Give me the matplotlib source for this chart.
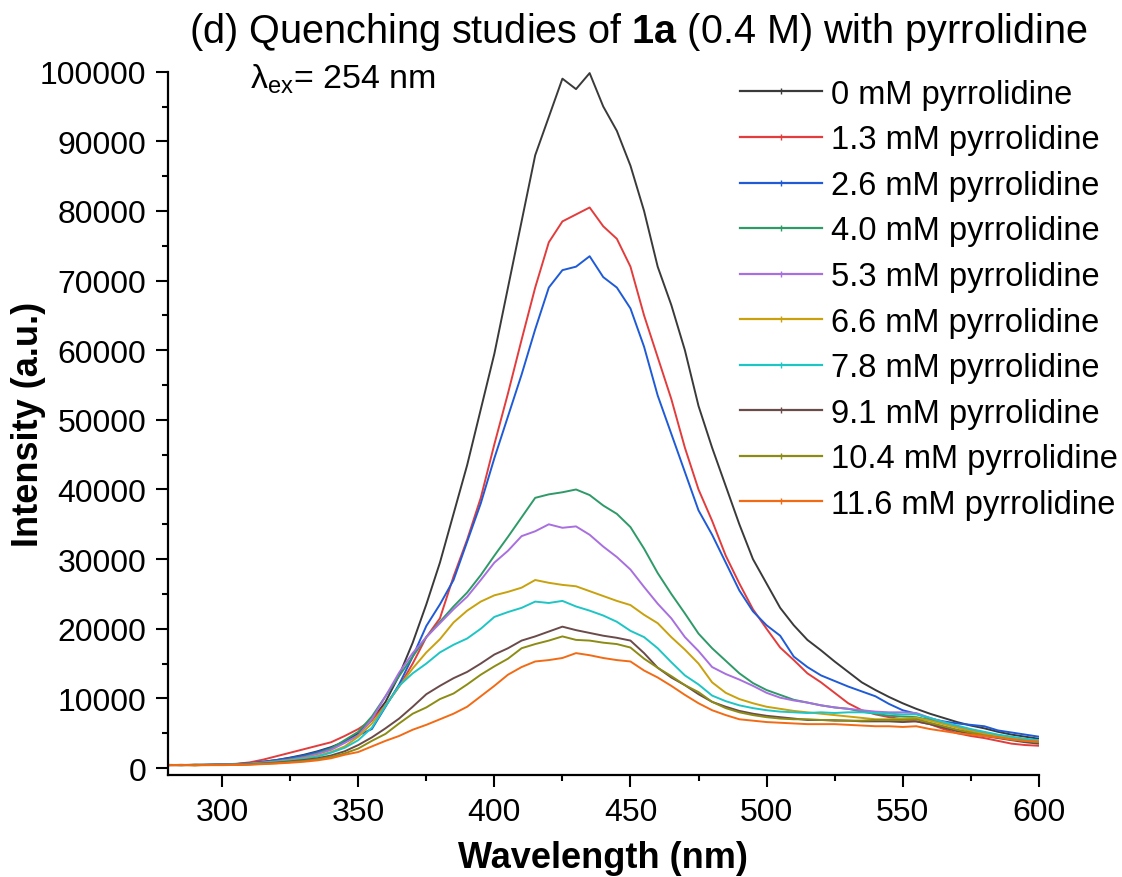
import matplotlib
matplotlib.use("Agg")
import matplotlib.pyplot as plt
from matplotlib.lines import Line2D
from matplotlib.ticker import MultipleLocator

plt.rcParams['font.family'] = ['Liberation Sans', 'DejaVu Sans']
plt.rcParams['mathtext.fontset'] = 'custom'
plt.rcParams['mathtext.rm'] = 'Liberation Sans'
plt.rcParams['mathtext.bf'] = 'Liberation Sans:bold'

# emission spectra, every 5 nm
wavelength = [280, 285, 290, 295, 300, 305, 310, 315, 320, 325, 330, 335, 340, 345, 350,
              355, 360, 365, 370, 375, 380, 385, 390, 395, 400, 405, 410, 415, 420, 425,
              430, 435, 440, 445, 450, 455, 460, 465, 470, 475, 480, 485, 490, 495, 500,
              505, 510, 515, 520, 525, 530, 535, 540, 545, 550, 555, 560, 565, 570, 575,
              580, 585, 590, 595, 600]

i_0mM = [450, 420, 480, 450, 500, 560, 700, 900, 1150, 1500, 1900, 2400, 3000, 3800, 5000,
         6900, 9500, 13300, 18000, 23500, 29500, 36500, 43500, 51500, 59500, 69000, 78500, 88000, 93500, 99000,
         97500, 99800, 95000, 91500, 86500, 80000, 72000, 66500, 60000, 52000, 46000, 40500, 35000, 30000, 26500,
         23000, 20500, 18400, 16900, 15300, 13800, 12300, 11200, 10200, 9300, 8500, 7800, 7200, 6600, 6100,
         5700, 5200, 4800, 4500, 4200]
i_1p3mM = [400, 450, 420, 480, 520, 600, 800, 1200, 1700, 2200, 2700, 3200, 3700, 4600, 5600,
           6900, 9000, 11700, 15000, 18800, 21500, 27500, 32800, 38800, 46500, 53800, 61500, 69000, 75500, 78500,
           79500, 80500, 77800, 76000, 72000, 65000, 59000, 53000, 46000, 40000, 35500, 30500, 26500, 22800, 20000,
           17300, 15500, 13600, 12300, 10800, 9300, 8300, 7700, 7300, 7000, 6700, 6300, 5600, 5000, 4600,
           4300, 3900, 3500, 3300, 3200]
i_2p6mM = [420, 400, 450, 470, 500, 560, 680, 900, 1150, 1450, 1800, 2300, 2900, 3700, 4700,
           5600, 8800, 12000, 16000, 20400, 23500, 27000, 32500, 38000, 44500, 50500, 56500, 63000, 69000, 71500,
           72000, 73500, 70500, 69000, 66000, 60500, 53500, 48000, 42500, 37000, 33500, 29500, 25500, 22500, 20500,
           19000, 16000, 14500, 13300, 12500, 11700, 11000, 10300, 9200, 8300, 7800, 7100, 6700, 6400, 6200,
           6000, 5400, 5100, 4800, 4500]
i_4p0mM = [430, 450, 400, 470, 480, 530, 620, 800, 1000, 1250, 1600, 2100, 2800, 4000, 5200,
           7400, 10300, 13200, 16000, 18800, 21000, 23200, 25200, 27700, 30500, 33200, 36000, 38800, 39300, 39600,
           40000, 39200, 37700, 36500, 34600, 31500, 28000, 25000, 22200, 19300, 17200, 15400, 13600, 12200, 11200,
           10500, 9800, 9400, 9000, 8700, 8500, 8100, 7800, 7500, 7400, 7300, 6900, 6400, 5900, 5400,
           5000, 4600, 4300, 4000, 3800]
i_5p3mM = [420, 430, 440, 420, 470, 520, 610, 780, 950, 1200, 1500, 2000, 2600, 3600, 4700,
           7000, 10300, 13700, 16500, 18800, 20800, 22800, 24600, 27000, 29500, 31200, 33300, 34000, 35000, 34500,
           34700, 33500, 31800, 30300, 28500, 26000, 23600, 21500, 18800, 16800, 14500, 13500, 12700, 11800, 10800,
           10100, 9700, 9400, 9000, 8700, 8500, 8300, 8100, 8000, 8000, 7900, 7200, 6600, 6000, 5500,
           5100, 4700, 4400, 4100, 3900]
i_6p6mM = [440, 410, 460, 430, 460, 500, 580, 720, 880, 1100, 1350, 1750, 2300, 3100, 4500,
           6400, 9000, 11700, 14300, 16600, 18500, 20900, 22600, 23900, 24800, 25300, 25900, 27000, 26600, 26300,
           26100, 25400, 24700, 24000, 23400, 22000, 20800, 18800, 17000, 15000, 12300, 10800, 9900, 9300, 8800,
           8500, 8200, 8000, 7800, 7600, 7400, 7200, 7000, 7000, 7100, 7200, 6800, 6300, 5800, 5300,
           4900, 4600, 4300, 4100, 3900]
i_7p8mM = [450, 420, 440, 460, 450, 490, 570, 700, 850, 1050, 1300, 1650, 2200, 2900, 4000,
           5800, 8900, 11800, 13600, 15000, 16600, 17700, 18600, 20000, 21700, 22400, 23000, 23900, 23700, 24000,
           23200, 22600, 21900, 21000, 19700, 18800, 17200, 15200, 13300, 12000, 10400, 9600, 9000, 8600, 8300,
           8100, 8000, 7900, 8000, 7900, 8000, 8000, 7900, 7800, 7700, 7700, 7200, 6600, 6100, 5600,
           5200, 4800, 4500, 4200, 4000]
i_9p1mM = [420, 440, 410, 450, 440, 470, 540, 650, 780, 950, 1150, 1400, 1800, 2400, 3300,
           4400, 5700, 7100, 8800, 10600, 11800, 12900, 13800, 15000, 16300, 17200, 18300, 18900, 19600, 20300,
           19800, 19400, 19000, 18700, 18300, 16500, 14400, 13000, 11900, 10600, 9500, 8800, 8200, 7800, 7500,
           7300, 7100, 6900, 6900, 6800, 6800, 6700, 6700, 6700, 6600, 6700, 6300, 5800, 5300, 4900,
           4600, 4300, 4000, 3700, 3500]
i_10p4mM = [430, 400, 430, 420, 430, 450, 510, 600, 700, 850, 1000, 1250, 1600, 2100, 2800,
            3900, 4900, 6400, 7800, 8700, 9900, 10700, 12000, 13400, 14600, 15700, 17200, 17800, 18300, 18900,
            18400, 18300, 18000, 17800, 17300, 15700, 14400, 13200, 11900, 10900, 9500, 8600, 8000, 7600, 7300,
            7100, 7000, 7000, 6900, 6900, 6800, 6800, 6900, 6900, 6900, 7000, 6500, 6000, 5500, 5100,
            4700, 4400, 4100, 3900, 3700]
i_11p6mM = [400, 430, 380, 420, 410, 440, 480, 560, 650, 760, 900, 1100, 1400, 1900, 2300,
            3100, 3900, 4600, 5500, 6200, 7000, 7800, 8800, 10300, 11800, 13400, 14500, 15300, 15500, 15800,
            16500, 16200, 15800, 15500, 15300, 14000, 13000, 11800, 10500, 9300, 8300, 7600, 7000, 6800, 6600,
            6500, 6400, 6300, 6300, 6300, 6200, 6100, 6000, 6000, 5900, 6000, 5600, 5300, 5000, 4800,
            4600, 4400, 4100, 3900, 3800]

series = [i_0mM, i_1p3mM, i_2p6mM, i_4p0mM, i_5p3mM, i_6p6mM, i_7p8mM, i_9p1mM, i_10p4mM, i_11p6mM]
labels = ["0 mM pyrrolidine", "1.3 mM pyrrolidine", "2.6 mM pyrrolidine", "4.0 mM pyrrolidine",
          "5.3 mM pyrrolidine", "6.6 mM pyrrolidine", "7.8 mM pyrrolidine", "9.1 mM pyrrolidine",
          "10.4 mM pyrrolidine", "11.6 mM pyrrolidine"]
colors = ["#3a3a3a", "#e33c3c", "#1f5bd6", "#2e9a68", "#a86fdf",
          "#c9a10c", "#1ec5c5", "#6b4a4a", "#8c8c14", "#f26b14"]

fig = plt.figure(figsize=(11.22, 8.78), dpi=100)
ax = fig.add_axes([0.1495, 0.1162, 0.7763, 0.8010])

for y, c, lab in zip(series, colors, labels):
    ax.plot(wavelength, y, color=c, lw=1.4, label=lab)

ax.set_xlim(280, 600)
ax.set_ylim(-1000, 100000)
ax.spines['top'].set_visible(False)
ax.spines['right'].set_visible(False)
ax.spines['left'].set_linewidth(1.6)
ax.spines['bottom'].set_linewidth(1.6)
ax.xaxis.set_major_locator(MultipleLocator(50))
ax.xaxis.set_minor_locator(MultipleLocator(25))
ax.yaxis.set_major_locator(MultipleLocator(10000))
ax.yaxis.set_minor_locator(MultipleLocator(5000))
ax.tick_params(which='major', direction='out', length=8.5, width=1.5, labelsize=23, pad=7)
ax.tick_params(which='minor', direction='out', length=4, width=1.5)

ax.set_xlabel("Wavelength (nm)", fontsize=26, fontweight='bold')
ax.xaxis.set_label_coords(0.5, -0.092)
ax.set_ylabel("Intensity (a.u.)", fontsize=26, fontweight='bold')
ax.yaxis.set_label_coords(-0.14, 0.5)

fig.text(0.1684, 0.951, r"(d) Quenching studies of $\mathbf{1a}$ (0.4 M) with pyrrolidine",
         fontsize=28.5, ha='left', va='baseline')
fig.text(0.2228, 0.8998, r"λ$_{\mathregular{ex}}$= 254 nm", fontsize=24.5, ha='left', va='baseline')

handles = [Line2D([0], [0], color=c, lw=1.6, marker='|', markersize=4) for c in colors]
ax.legend(handles, labels, loc='upper left', bbox_to_anchor=(0.6595, 0.909),
          bbox_transform=fig.transFigure, frameon=False, fontsize=23.5,
          handlelength=2.5, handletextpad=0.3, labelspacing=0.445,
          borderpad=0, borderaxespad=0, numpoints=1)

fig.savefig("out.png", dpi=100)
